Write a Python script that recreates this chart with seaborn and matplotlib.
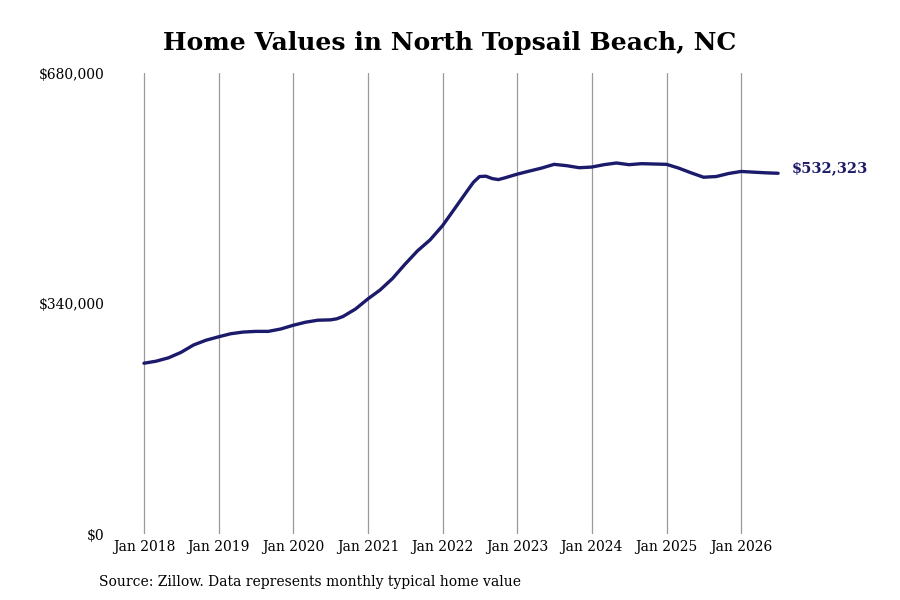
import matplotlib
matplotlib.use("Agg")
import matplotlib.pyplot as plt
import matplotlib.dates as mdates
import matplotlib.ticker as mticker
import seaborn as sns
import pandas as pd

# values (approximate)
dates = ["2018-01", "2018-03", "2018-05", "2018-07", "2018-09", "2018-11",
         "2019-01", "2019-03", "2019-05", "2019-07", "2019-09", "2019-11",
         "2020-01", "2020-03", "2020-05", "2020-07", "2020-08", "2020-09", "2020-11",
         "2021-01", "2021-03", "2021-05", "2021-07", "2021-09", "2021-11",
         "2022-01", "2022-03", "2022-05", "2022-06", "2022-07", "2022-08", "2022-09",
         "2022-10", "2022-11",
         "2023-01", "2023-03", "2023-05", "2023-07", "2023-09", "2023-11",
         "2024-01", "2024-03", "2024-05", "2024-07", "2024-09", "2024-11",
         "2025-01", "2025-03", "2025-05", "2025-07", "2025-09", "2025-11",
         "2026-01", "2026-03", "2026-05", "2026-07"]
values = [252000, 255000, 260000, 268000, 279000, 286000,
          291000, 295500, 298000, 299000, 299000, 302500,
          308000, 312500, 315500, 316000, 317500, 321000, 332000,
          347000, 360000, 377000, 398000, 418000, 434000,
          455000, 480000, 506000, 519000, 527500, 528000, 524500,
          523000, 525500,
          531000, 535500, 540000, 545500, 543500, 540500,
          541500, 545000, 547500, 545000, 546500, 546000,
          545500, 540000, 533000, 526500, 527500, 532000,
          535000, 534000, 533000, 532323]

title = "Home Values in North Topsail Beach, NC"
source = "Source: Zillow. Data represents monthly typical home value"
end_label = "$532,323"
yticks = [0, 340000, 680000]
xtick_years = list(range(2018, 2027))

df = pd.DataFrame({"date": pd.to_datetime(dates), "value": values})

sns.set_style("white")
plt.rcParams["font.family"] = ["DejaVu Serif"]

fig = plt.figure(figsize=(9, 6), dpi=100)
ax = fig.add_axes([0.13, 0.11, 0.75, 0.768])

sns.lineplot(data=df, x="date", y="value", color="#1b1a6b", linewidth=2.4, ax=ax)

ax.set_ylim(0, 680000)
ax.set_yticks(yticks)
ax.yaxis.set_major_formatter(mticker.FuncFormatter(lambda v, p: "${:,.0f}".format(v)))
ax.set_xlim(pd.Timestamp("2017-08-22"), pd.Timestamp("2026-09-07"))
ax.set_xticks([pd.Timestamp(f"{y}-01-01") for y in xtick_years])
ax.xaxis.set_major_formatter(mdates.DateFormatter("Jan %Y"))

ax.grid(axis="x", color="#999999", linewidth=0.9)
ax.grid(axis="y", visible=False)
for s in ax.spines.values():
    s.set_visible(False)
ax.tick_params(axis="both", length=0, labelsize=10, colors="black")
ax.tick_params(axis="y", pad=9)
ax.tick_params(axis="x", pad=4)
ax.set_xlabel("")
ax.set_ylabel("")

ax.text(pd.Timestamp("2026-09-07"), values[-1] + 8000, end_label, color="#1b1a6b",
        fontsize=10.5, fontweight="bold", va="center", ha="left")

fig.text(0.5, 0.928, title, ha="center", va="center", fontsize=18,
         fontweight="bold", color="black")
fig.text(0.11, 0.03, source, ha="left", va="center", fontsize=10, color="black")

fig.savefig("out.png", dpi=100)
